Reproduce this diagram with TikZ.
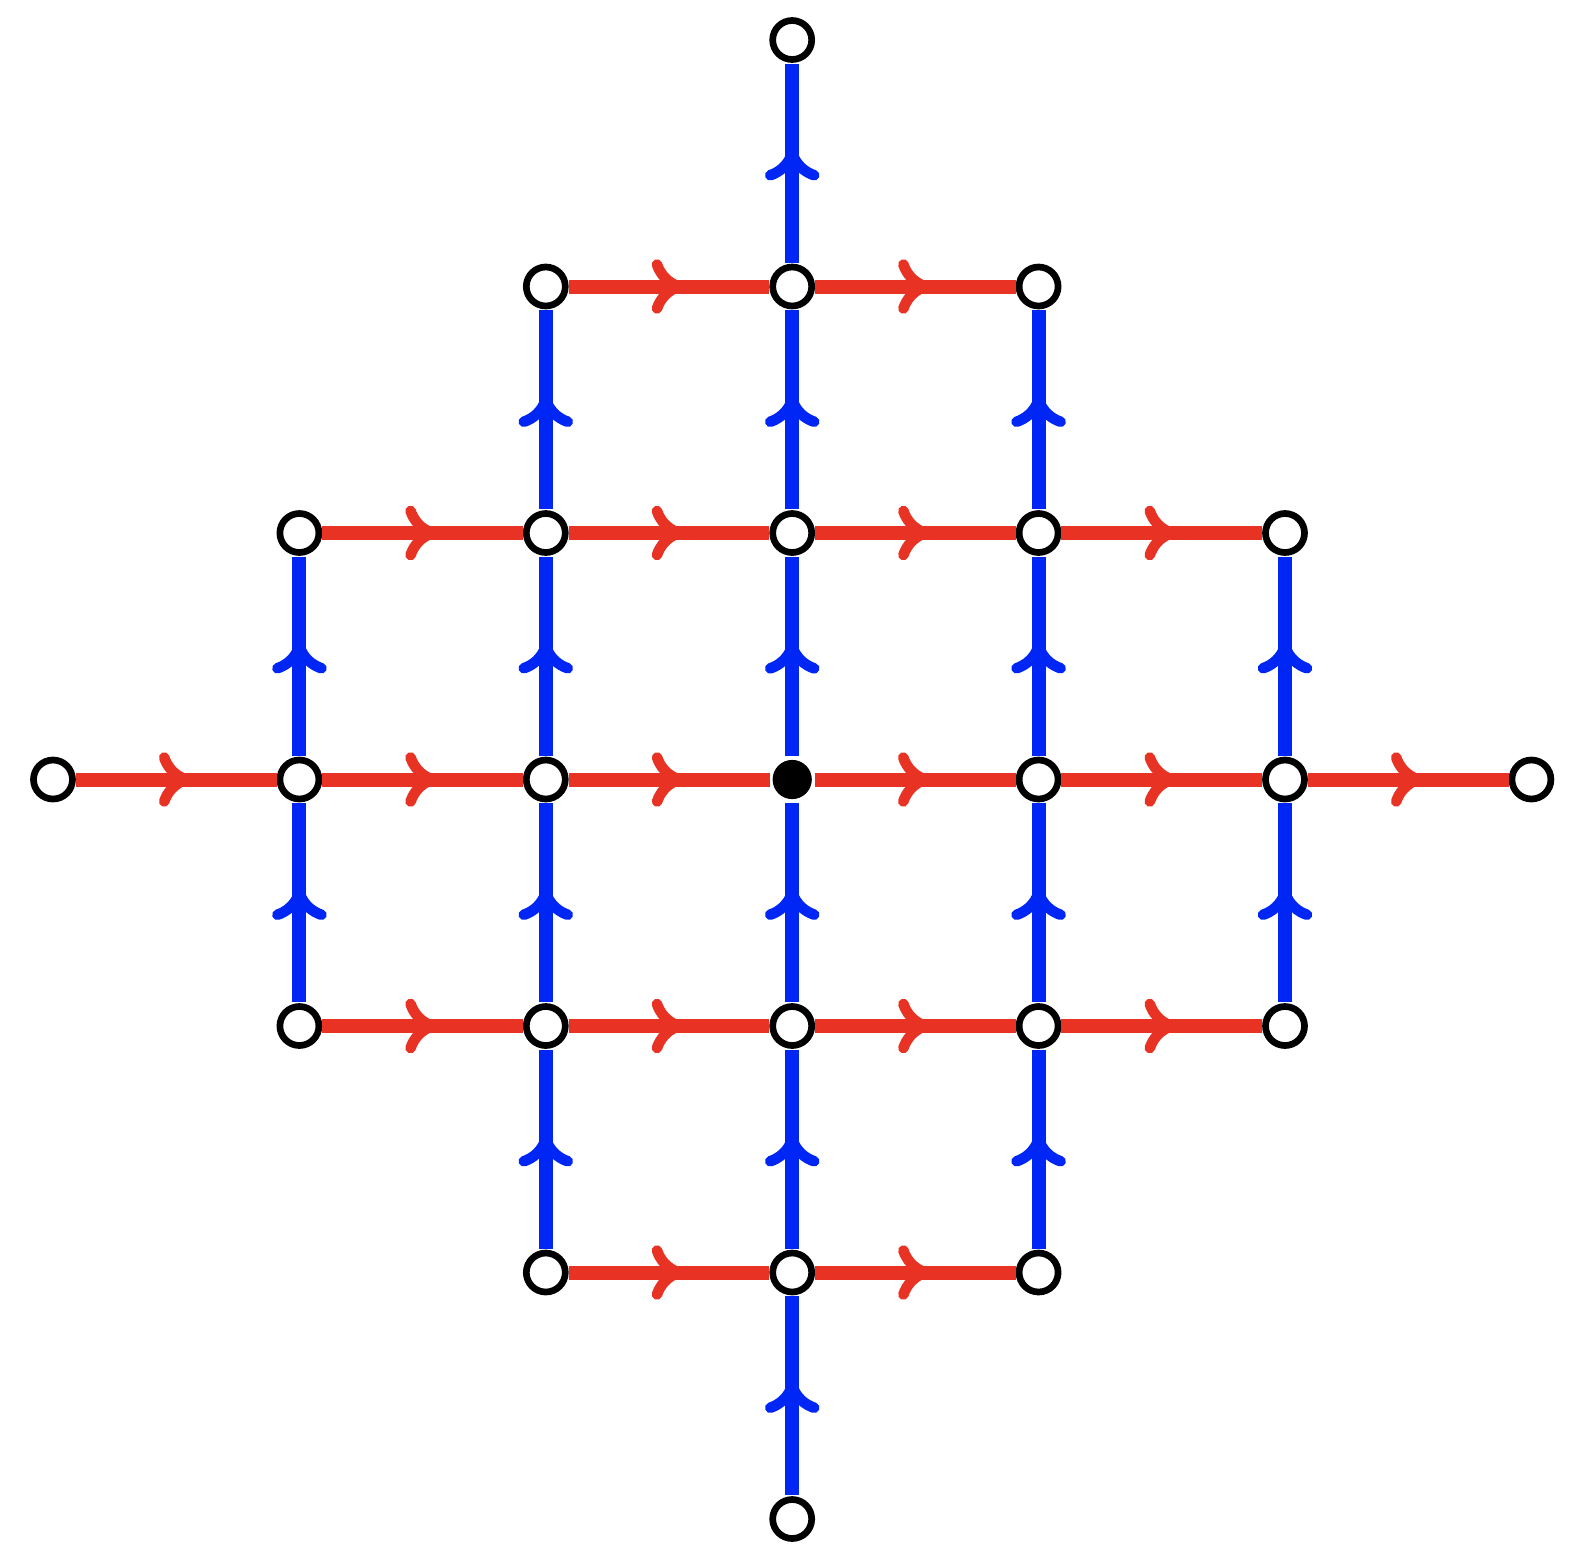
\documentclass[tikz,border=0pt]{standalone}
\usetikzlibrary{decorations.markings}
\definecolor{myred}{RGB}{232,51,36}
\definecolor{myblue}{RGB}{0,38,245}
\tikzset{
  openv/.style={circle, draw=black, fill=white, line width=3.35pt, minimum size=19.5pt, inner sep=0pt},
  fullv/.style={circle, fill=black, minimum size=19.6pt, inner sep=0pt, outer sep=1.5pt},
  barb/.style={line width=5.3pt, line cap=round, line join=round, shorten >=0pt, shorten <=0pt},
  barbpath/.style={decorate, decoration={markings, mark=at position 0.5 with {\draw[barb, #1] (-12,22) .. controls (-9,13) and (-2,4) .. (10,0) .. controls (-2,-4) and (-9,-13) .. (-12,-22);}}},
  redge/.style={draw=myred, line width=7pt, postaction={barbpath=myred}},
  bedge/.style={draw=myblue, line width=7pt, shorten >=0.5pt, shorten <=0.5pt, postaction={barbpath=myblue}}
}
\begin{document}
\begin{tikzpicture}[x=0.5pt, y=-0.5pt]
\fill[white] (0,0) rectangle (1586,1560);
\useasboundingbox (0,0) rectangle (1586,1560);
\foreach \i in {0,...,6}{
  \foreach \j in {0,...,6}{
    \pgfmathtruncatemacro\dd{abs(\i-3)+abs(\j-3)}
    \ifnum\dd=0
      \node[fullv] (n\i\j) at ({53+246.4*\i},{40+246.5*\j}) {};
    \else
      \ifnum\dd<4
        \node[openv] (n\i\j) at ({53+246.4*\i},{40+246.5*\j}) {};
      \fi
    \fi
  }
}
\foreach \i in {0,...,5}{
  \foreach \j in {0,...,6}{
    \pgfmathtruncatemacro\k{\i+1}
    \pgfmathtruncatemacro\da{abs(\i-3)+abs(\j-3)}
    \pgfmathtruncatemacro\db{abs(\k-3)+abs(\j-3)}
    \ifnum\da<4 \ifnum\db<4
      \draw[redge] (n\i\j) -- (n\k\j);
    \fi\fi
  }
}
\foreach \i in {0,...,6}{
  \foreach \j in {0,...,5}{
    \pgfmathtruncatemacro\k{\j+1}
    \pgfmathtruncatemacro\da{abs(\i-3)+abs(\j-3)}
    \pgfmathtruncatemacro\db{abs(\i-3)+abs(\k-3)}
    \ifnum\da<4 \ifnum\db<4
      \draw[bedge] (n\i\k) -- (n\i\j);
    \fi\fi
  }
}
\end{tikzpicture}
\end{document}
